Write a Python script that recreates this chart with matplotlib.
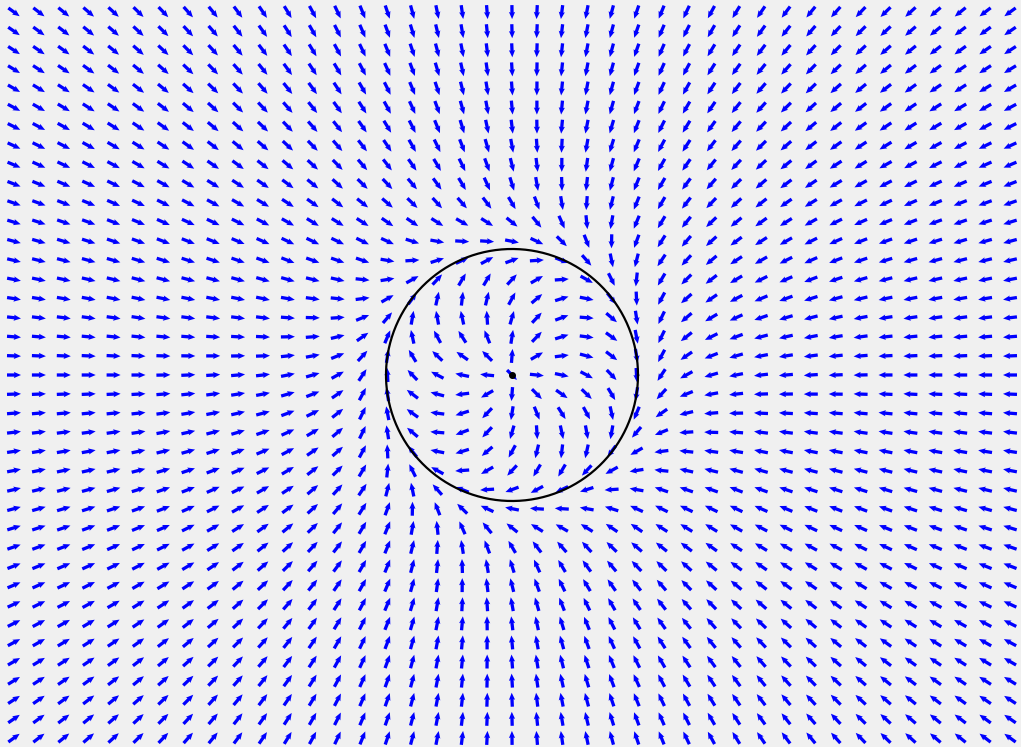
import numpy as np
import matplotlib.pyplot as plt

W, H = 1021, 747

# grid of arrows (pixel coordinates, y down)
n_cols, n_rows = 41, 39
col_step, row_step = 24.9, 19.1
center_x, center_y = 512, 375
radius = 126

# turning angle (deg) of the arrows
# inside: 0 = pointing out from centre, 90 = clockwise along the circle
r_inside = [0.0, 0.4, 0.62, 0.8, 0.95, 1.0]
turn_inside = [0, 12, 30, 47, 78, 90]
# outside: 90 = clockwise along the circle, 0 = pointing in to the centre
r_outside = [1.0, 1.1, 1.22, 1.35, 1.5, 2.0, 3.0, 8.0]
turn_outside = [90, 72, 50, 32, 18, 6, 0, 0]

arrow_len = 14

xs = center_x + col_step * (np.arange(n_cols) - n_cols // 2)
ys = center_y + row_step * (np.arange(n_rows) - n_rows // 2)
X, Y = np.meshgrid(xs, ys)

dx, dy = X - center_x, Y - center_y
r = np.hypot(dx, dy)
rr = np.where(r == 0, 1, r)
rad_x, rad_y = dx / rr, dy / rr
rad_x[r == 0], rad_y[r == 0] = np.sqrt(0.5), np.sqrt(0.5)
tan_x, tan_y = -rad_y, rad_x

rn = r / radius
a_in = np.radians(np.interp(rn, r_inside, turn_inside))
a_out = np.radians(np.interp(rn, r_outside, turn_outside))
inside = rn < 1
U = np.where(inside, np.cos(a_in) * rad_x + np.sin(a_in) * tan_x,
             -np.cos(a_out) * rad_x + np.sin(a_out) * tan_x)
V = np.where(inside, np.cos(a_in) * rad_y + np.sin(a_in) * tan_y,
             -np.cos(a_out) * rad_y + np.sin(a_out) * tan_y)

fig = plt.figure(figsize=(W / 100, H / 100), dpi=100, facecolor='#f0f0f0')
ax = fig.add_axes([0, 0, 1, 1])
ax.set_xlim(0, W)
ax.set_ylim(H, 0)
ax.set_axis_off()

ax.quiver(X, Y, U * arrow_len, V * arrow_len, angles='xy', scale_units='xy',
          scale=1, pivot='middle', color='#0000ff', width=0.0032,
          headwidth=1.9, headlength=2.2, headaxislength=2.0)

theta = np.linspace(0, 2 * np.pi, 400)
ax.plot(center_x + radius * np.cos(theta), center_y + radius * np.sin(theta),
        color='black', lw=1.6)
ax.plot([center_x], [center_y], 'o', color='black', ms=4)

fig.savefig('out.png', dpi=100, facecolor=fig.get_facecolor())
